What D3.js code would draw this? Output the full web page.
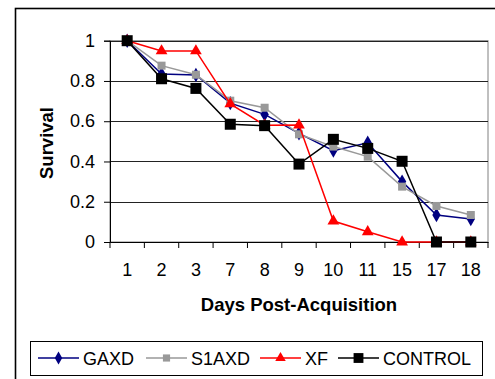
<!DOCTYPE html>
<html><head><meta charset="utf-8">
<script src="https://cdn.jsdelivr.net/npm/d3@7"></script>
<style>body{margin:0;background:#fff}svg{display:block}text{font-family:"Liberation Sans",Arial,sans-serif}</style>
</head><body><svg id="c" width="495" height="379"></svg>
<script>
const days = ["1","2","3","7","8","9","10","11","15","17","18"];
const gaxd    = [1, 0.835, 0.83, 0.69, 0.634, 0.54, 0.454, 0.493, 0.30, 0.134, 0.114];
const s1axd   = [1, 0.876, 0.831, 0.702, 0.667, 0.535, 0.474, 0.424, 0.275, 0.179, 0.134];
const xf      = [1, 0.949, 0.949, 0.686, 0.58, 0.581, 0.104, 0.051, 0, 0, 0];
const control = [1, 0.811, 0.763, 0.585, 0.578, 0.387, 0.510, 0.465, 0.401, 0, 0];
const yTicks = [0, 0.2, 0.4, 0.6, 0.8, 1];
const seriesNames = ["GAXD","S1AXD","XF","CONTROL"];

const series = [
  {name:"GAXD", values:gaxd, color:"#000080", shape:d3.symbolDiamond, size:60},
  {name:"S1AXD", values:s1axd, color:"#999999", shape:d3.symbolSquare, size:64},
  {name:"XF", values:xf, color:"#ff0000", shape:d3.symbolTriangle, size:60},
  {name:"CONTROL", values:control, color:"#000000", shape:d3.symbolSquare, size:121}
];

const svg = d3.select("#c");
const L=110, R=488, T=40.7, B=242;
const x = d3.scaleBand().domain(days).range([L,R]);
const y = d3.scaleLinear().domain([0,1]).range([B,T]);
const FONT = "Liberation Sans, Arial, sans-serif";

// outer frame
svg.append("rect").attr("x",15.5).attr("y",8.5).attr("width",500).attr("height",400)
  .attr("fill","none").attr("stroke","#000").attr("stroke-width",1.6);

// plot border (grey)
svg.append("rect").attr("x",L).attr("y",T).attr("width",R-L).attr("height",B-T)
  .attr("fill","none").attr("stroke","#808080").attr("stroke-width",1);

// gridlines
svg.append("g").selectAll("line").data(yTicks.filter(d=>d>0)).join("line")
  .attr("x1",L).attr("x2",R).attr("y1",d=>Math.round(y(d))+0.5).attr("y2",d=>Math.round(y(d))+0.5)
  .attr("stroke","#222").attr("stroke-width",1);

// y axis
const ya = svg.append("g").attr("transform",`translate(${L},0)`)
  .call(d3.axisLeft(y).tickValues(yTicks).tickFormat(d=>d3.format("")(d)).tickSize(6).tickPadding(9));
ya.select(".domain").attr("stroke","#000");
ya.selectAll(".tick line").attr("stroke","#000");
ya.selectAll("text").attr("font-size",18).attr("fill","#000").attr("font-family",FONT);

// x axis
const xa = svg.append("g").attr("transform",`translate(0,${B})`)
  .call(d3.axisBottom(x).tickSize(0).tickPadding(21));
xa.select(".domain").attr("stroke","#000");
xa.selectAll("text").attr("font-size",18).attr("fill","#000").attr("font-family",FONT);
// x tick marks at band boundaries
const bounds = days.map(d=>x(d)).concat([R]);
svg.append("g").selectAll("line").data(bounds).join("line")
  .attr("x1",d=>d).attr("x2",d=>d).attr("y1",B).attr("y2",B+6).attr("stroke","#000");

// axis titles
svg.append("text").attr("x",299).attr("y",311).attr("text-anchor","middle")
  .attr("font-size",18.5).attr("font-weight","bold").text("Days Post-Acquisition");
svg.append("text").attr("transform","translate(52.5,143) rotate(-90)").attr("text-anchor","middle")
  .attr("font-size",18.5).attr("font-weight","bold").text("Survival");

// lines and markers
const cx = d=>x(d)+x.bandwidth()/2;
const line = d3.line().x((v,i)=>cx(days[i])).y(v=>y(v));
series.forEach(s=>{
  const g = svg.append("g");
  g.append("path").attr("d",line(s.values)).attr("fill","none").attr("stroke",s.color).attr("stroke-width",1.5);
  g.selectAll("path.m").data(s.values).join("path").attr("class","m")
    .attr("transform",(v,i)=>`translate(${cx(days[i])},${y(v)})`)
    .attr("d",d3.symbol().type(s.shape).size(s.size)).attr("fill",s.color);
});

// legend
svg.append("rect").attr("x",30.5).attr("y",341.5).attr("width",452).attr("height",34)
  .attr("fill","#fff").attr("stroke","#000").attr("stroke-width",1);
const legX = [38, 146, 260, 338];
series.forEach((s,i)=>{
  const g = svg.append("g").attr("transform",`translate(${legX[i]},358)`);
  g.append("line").attr("x1",0).attr("x2",41).attr("stroke",s.color).attr("stroke-width",1.5);
  g.append("path").attr("transform","translate(20.5,0)").attr("d",d3.symbol().type(s.shape).size(s.size*0.8)).attr("fill",s.color);
  g.append("text").attr("x",45).attr("y",6.5).attr("font-size",18).attr("font-family",FONT).text(seriesNames[i]);
});
</script></body></html>
